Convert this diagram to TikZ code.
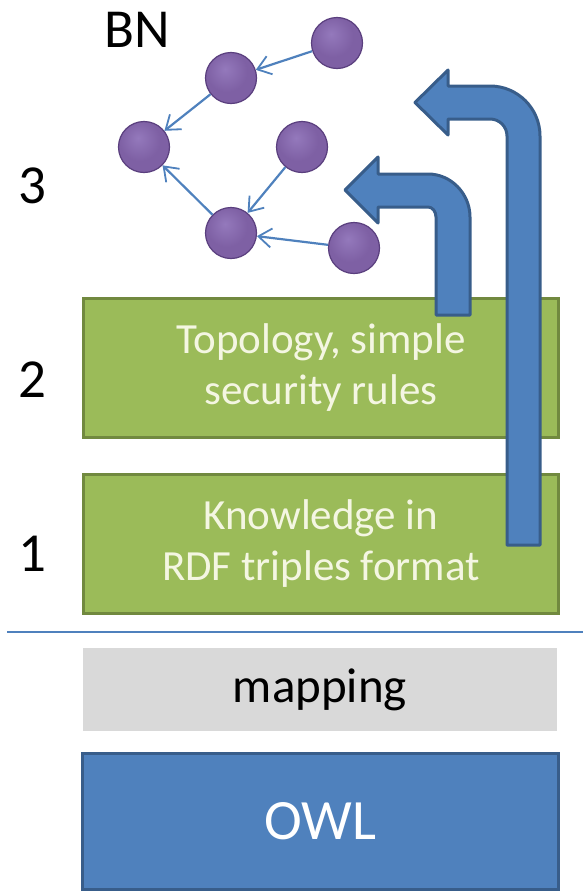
\documentclass[tikz,border=0pt]{standalone}
\usepackage{fontspec}
\setmainfont{Carlito}
\usetikzlibrary{arrows.meta,graphs}
\definecolor{layergreen}{HTML}{9BBB59}
\definecolor{layerrim}{HTML}{71893F}
\definecolor{layertext}{HTML}{F4F6E2}
\definecolor{owlblue}{HTML}{4F81BD}
\definecolor{owlrim}{HTML}{385D8A}
\definecolor{mapgrey}{HTML}{D9D9D9}
\definecolor{bnlight}{HTML}{9479BC}
\definecolor{bnmid}{HTML}{7E60A4}
\definecolor{bndark}{HTML}{5A3F7E}
\pgfdeclareradialshading{bnball}{\pgfpoint{-6bp}{9bp}}{%
    color(0bp)=(bnlight); color(20bp)=(bnmid); color(42bp)=(bnmid);
    color(56bp)=(bndark); color(70bp)=(bndark)}
\tikzset{
    >={Straight Barb[length=13pt,width=19pt,line width=1.8pt]},
    layer/.style={
        draw=layerrim,
        fill=layergreen,
        line width=3pt,
        minimum width=475pt,
        minimum height=139pt,
        text=layertext,
        align=center,
        font=\fontsize{43pt}{51pt}\selectfont,
    },
    mapbox/.style={
        fill=mapgrey,
        minimum width=474pt,
        minimum height=83pt,
        font=\fontsize{49pt}{55pt}\selectfont,
    },
    owlbox/.style={
        draw=owlrim,
        fill=owlblue,
        line width=3pt,
        minimum width=476pt,
        minimum height=136pt,
        text=white,
        font=\fontsize{57pt}{64pt}\selectfont,
    },
    level/.style={
        font=\fontsize{55pt}{60pt}\selectfont,
    },
    sepline/.style={
        draw=owlblue,
        line width=2.5pt,
    },
    bnnode/.style={
        circle,
        draw=bndark,
        line width=1.2pt,
        shading=bnball,
        inner sep=0pt,
        minimum size=51pt,
    },
    bnedge/.style={
        draw=owlblue,
        line width=2.2pt,
    },
    bent/.style={
        fill=owlblue,
        draw=owlrim,
        line width=3pt,
        line join=round,
    },
}

\begin{document}
\begin{tikzpicture}[x=1pt, y=-1pt]
    \useasboundingbox (0,0) rectangle (583,894);

    % layers
    \node[layer] (topo) at (321,368) {Topology, simple\\security rules};
    \node[layer] (rdf) at (321,544) {Knowledge in\\RDF triples format};
    \draw[sepline] (7,632) -- (583,632);
    \node[mapbox] (map) at (320,689.5) {mapping};
    \node[owlbox] (owl) at (320.5,821) {OWL};

    % level numbers
    \node[level] (lvlthree) at (32,186) {3};
    \node[level] (lvltwo) at (32,380) {2};
    \node[level] (lvlone) at (32,554) {1};

    % bayesian network
    \node[level] (bn) at (137,30) {BN};
    \node[bnnode] (A) at (337,43) {};
    \node[bnnode] (B) at (231,78) {};
    \node[bnnode] (C) at (144,147) {};
    \node[bnnode] (D) at (302,147) {};
    \node[bnnode] (E) at (231,233) {};
    \node[bnnode] (F) at (354,248) {};
    \graph[use existing nodes, edges={bnedge}]{
        A -> B -> C ;
        D -> E -> C ;
        F -> E ;
    } ;

    % bent arrows up to the BN
    \filldraw[bent] (436,315) -- (470,315) -- (470,217)
        .. controls (470,193.8) and (451.2,174) .. (428,174)
        -- (378,174) -- (378,157) -- (345,190) -- (378,223) -- (378,207)
        -- (428,207) .. controls (432.4,207) and (436,211.5) .. (436,217)
        -- cycle;
    \filldraw[bent] (507,545) -- (540,545) -- (540,136)
        .. controls (540,108.4) and (517.6,86) .. (490,86)
        -- (448,86) -- (448,70) -- (415,102.5) -- (448,135) -- (448,119)
        -- (490,119) .. controls (499.4,119) and (507,126.6) .. (507,136)
        -- cycle;
\end{tikzpicture}
\end{document}
